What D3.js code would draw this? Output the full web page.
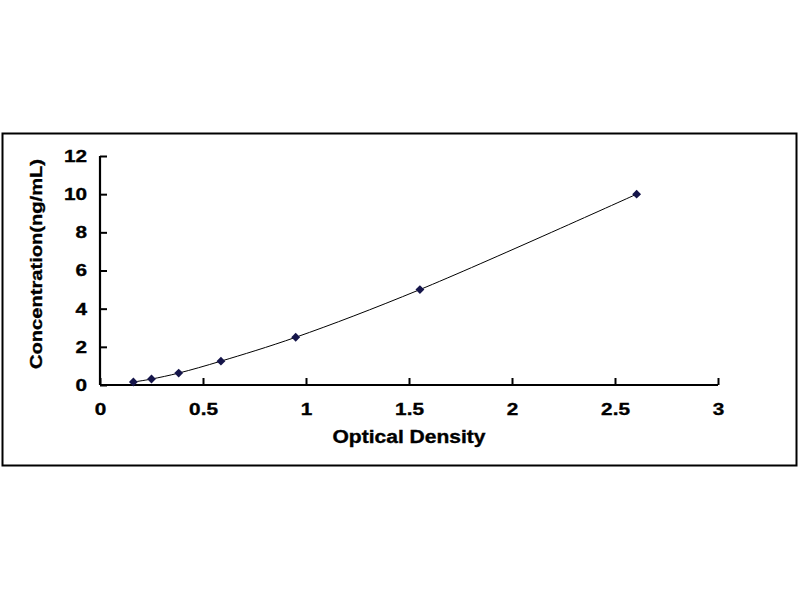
<!DOCTYPE html>
<html>
<head>
<meta charset="utf-8">
<script src="https://cdn.jsdelivr.net/npm/d3@7"></script>
<style>
  body { margin: 0; background: #fff; }
  svg text { font-family: Arial, "Liberation Sans", sans-serif; font-weight: bold; fill: #000; stroke: #000; stroke-width: 0.35px; }
</style>
</head>
<body>
<div id="chart"></div>
<script>
// standard curve readings
const od = [0.162, 0.25, 0.382, 0.587, 0.95, 1.553, 2.605];
const conc = [0.156, 0.312, 0.625, 1.25, 2.5, 5, 10];
const xTicks = [0, 0.5, 1, 1.5, 2, 2.5, 3];
const yTicks = [0, 2, 4, 6, 8, 10, 12];

const W = 800, H = 600;
const margin = {top: 156, left: 100, right: 82, bottom: 215};
const width = W - margin.left - margin.right,
  height = H - margin.top - margin.bottom;

const svg = d3.select("#chart")
  .append("svg")
    .attr("width", W)
    .attr("height", H);

// outer frame
svg.append("rect")
  .attr("x", 2.5).attr("y", 133.5)
  .attr("width", 794).attr("height", 332)
  .attr("fill", "none")
  .attr("stroke", "#000")
  .attr("stroke-width", 2);

const g = svg.append("g")
  .attr("transform", `translate(${margin.left},${margin.top})`);

const x = d3.scaleLinear().domain([0, 3]).range([0, width]);
const y = d3.scaleLinear().domain([0, 12]).range([height, 0]);

const xAxis = g.append("g")
  .attr("transform", `translate(0,${height})`)
  .call(d3.axisBottom(x).tickValues(xTicks).tickSize(-7).tickPadding(14)
    .tickFormat(d3.format("")));
const yAxis = g.append("g")
  .call(d3.axisLeft(y).tickValues(yTicks).tickSize(-7).tickPadding(14)
    .tickFormat(d3.format("")));

// the source font is wider than Arial, so stretch the labels a bit
function widen(sel, k) {
  sel.attr("textLength", function() { return this.getComputedTextLength() * k; })
    .attr("lengthAdjust", "spacingAndGlyphs");
}

[xAxis, yAxis].forEach(a => {
  a.select(".domain").attr("stroke", "#000").attr("stroke-width", 2.2);
  a.selectAll(".tick line").attr("stroke", "#000").attr("stroke-width", 2);
  a.selectAll(".tick text").style("font-size", "17px").attr("fill", "#000");
});
xAxis.select(".domain").attr("d", `M0,0H${width}`);
yAxis.select(".domain").attr("d", `M0,${height}V0`);
xAxis.selectAll(".tick text").attr("dy", "0.71em").attr("y", 18);
yAxis.selectAll(".tick text").attr("x", -13);
widen(xAxis.selectAll(".tick text"), 1.22);
widen(yAxis.selectAll(".tick text"), 1.22);

// fitted curve
const pts = od.map((v, i) => [x(v), y(conc[i])]);
g.append("path")
  .attr("d", d3.line().curve(d3.curveCatmullRom.alpha(0.5))(pts))
  .attr("fill", "none")
  .attr("stroke", "#000")
  .attr("stroke-width", 1);

g.selectAll(".pt")
  .data(pts)
  .join("path")
    .attr("class", "pt")
    .attr("transform", d => `translate(${d[0]},${d[1]})`)
    .attr("d", d3.symbol(d3.symbolDiamond2, 50)())
    .attr("fill", "#15154a");

svg.append("text")
  .attr("x", 409).attr("y", 443)
  .attr("text-anchor", "middle")
  .attr("textLength", 153)
  .attr("lengthAdjust", "spacingAndGlyphs")
  .style("font-size", "18px")
  .text("Optical Density");

svg.append("text")
  .attr("transform", "translate(42,264) rotate(-90)")
  .attr("text-anchor", "middle")
  .attr("textLength", 210)
  .attr("lengthAdjust", "spacingAndGlyphs")
  .style("font-size", "17px")
  .text("Concentration(ng/mL)");
</script>
</body>
</html>
